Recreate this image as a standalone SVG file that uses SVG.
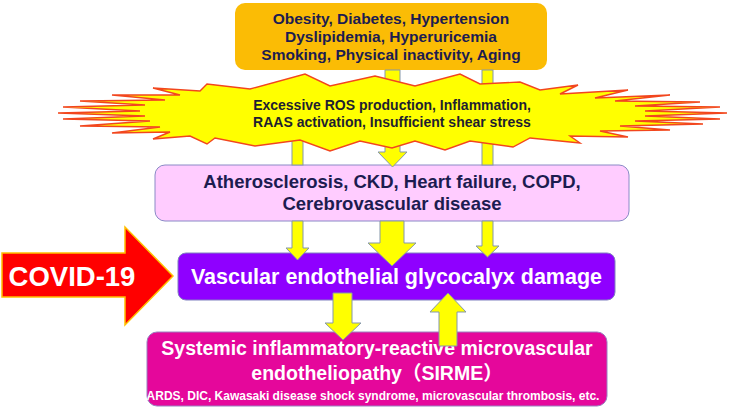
<svg xmlns="http://www.w3.org/2000/svg" width="730" height="410" viewBox="0 0 730 410">
<style>
.t{font-family:"Liberation Sans",Arial,"Noto Sans CJK JP",sans-serif;font-weight:bold;text-anchor:middle}
.navy{fill:#1c1c50}
.dark{fill:#1e1e30}
.white{fill:#ffffff}
.arr{fill:#ffff00;stroke:#8597a9;stroke-width:1}
</style>
<rect width="730" height="410" fill="#ffffff"/>
<g id="risk-factors">
<rect x="235" y="3" width="312" height="67" rx="10" fill="#fbbc05"/>
<text class="t navy" x="391" y="24" font-size="15.5">Obesity, Diabetes, Hypertension</text>
<text class="t navy" x="391" y="42" font-size="15.5">Dyslipidemia, Hyperuricemia</text>
<text class="t navy" x="391" y="60" font-size="15.5">Smoking, Physical inactivity, Aging</text>
</g>
<g id="diseases">
<rect x="155" y="165" width="474" height="56" rx="10" fill="#ffccff" stroke="#8a8ac6" stroke-width="1"/>
<text class="t navy" x="392" y="188" font-size="18.5">Atherosclerosis, CKD, Heart failure, COPD,</text>
<text class="t navy" x="392" y="210" font-size="18.5">Cerebrovascular disease</text>
</g>
<g id="glycocalyx">
<rect x="178" y="253" width="437" height="47" rx="8" fill="#8f00ff" stroke="#8080c0" stroke-width="1"/>
<text class="t white" x="396.5" y="284" font-size="21.5">Vascular endothelial glycocalyx damage</text>
</g>
<g id="sirme">
<rect x="147" y="332" width="460" height="74" rx="10" fill="#e5079b" stroke="#9a80c0" stroke-width="1"/>
<text class="t white" x="377" y="355" font-size="19.5">Systemic inflammatory-reactive microvascular</text>
<text class="t white" x="377" y="380" font-size="19.5">endotheliopathy（SIRME）</text>
<text class="t white" x="373" y="400" font-size="12">ARDS, DIC, Kawasaki disease shock syndrome, microvascular thrombosis, etc.</text>
</g>
<g id="covid">
<polygon points="2,253 125,253 125,227 173,276 125,325 125,297 2,297" fill="#ff0000" stroke="#ffc000" stroke-width="1.5"/>
<text class="t white" x="72" y="286" font-size="27.5">COVID-19</text>
</g>
<g id="connectors">
<path class="arr" d="M385,70 L400,70 L400,152 L407,152 L392.5,167 L378,152 L385,152 Z"/>
<rect class="arr" x="482" y="70" width="11" height="95"/>
<rect class="arr" x="292" y="120" width="11" height="45"/>
<path class="arr" d="M292,221 L303,221 L303,248 L309,248 L297.5,260 L286,248 L292,248 Z"/>
<path class="arr" d="M380,221 L404,221 L404,243 L416,243 L392,266 L368,243 L380,243 Z"/>
<path class="arr" d="M482,221 L493,221 L493,246 L499,246 L487.5,257 L476,246 L482,246 Z"/>
<path class="arr" d="M333,293 L352,293 L352,323 L361,323 L343,340 L325,323 L333,323 Z"/>
<path class="arr" d="M439,346 L457,346 L457,312 L466,312 L448,293 L430,312 L439,312 Z"/>
</g>
<g id="stressors">
<polygon fill="#ffff00" stroke="#f2461e" stroke-width="1.4" stroke-linejoin="miter" points="58,113 140,111 63,107 145,105 80,101 165,100 112,95 180,95 153,88 200,91 207,84 250,89 305,74 330,86 375,76 415,86 460,74 480,84 520,82 540,90 578,85 560,94 628,90 595,98 670,95 615,101 700,102 635,106 720,107 645,111 727,113 645,116 720,119 635,121 703,124 620,126 670,130 600,131 628,137 570,136 580,143 530,138 513,147 470,141 445,150 415,141 392,148 360,141 330,151 300,140 255,146 215,138 207,144 190,136 153,139 170,132 112,133 160,127 80,126 150,121 63,119 145,116"/>
<text class="t dark" x="392" y="110" font-size="14">Excessive ROS production, Inflammation,</text>
<text class="t dark" x="392" y="127" font-size="14">RAAS activation, Insufficient shear stress</text>
</g>
</svg>
